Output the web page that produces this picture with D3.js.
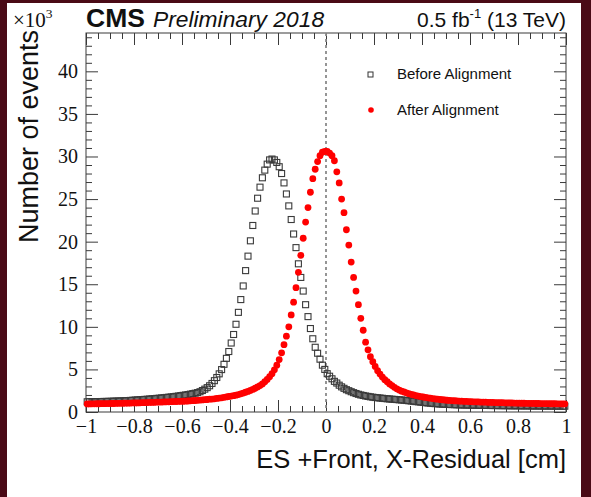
<!DOCTYPE html>
<html>
<head>
<meta charset="utf-8">
<script src="https://cdn.jsdelivr.net/npm/d3@7"></script>
<style>
  html, body { margin: 0; padding: 0; background: #4a0a16; }
  svg { display: block; }
</style>
</head>
<body>
<svg id="chart" width="591" height="497"></svg>
<script>
// Histogram binning of the residual axis (cm)
const xMin = -1, xMax = 1, nBins = 200;

// Entries per bin, in units of 10^3 events
const beforeAlignment = [
  1.20,1.20,1.21,1.21,1.22,1.22,1.23,1.24,1.24,1.25,1.26,1.27,1.28,1.29,1.30,1.31,1.33,1.34,1.36,1.38,
  1.40,1.42,1.44,1.46,1.48,1.50,1.52,1.55,1.57,1.60,1.62,1.65,1.68,1.71,1.74,1.77,1.80,1.84,1.88,1.92,
  1.96,2.00,2.05,2.10,2.16,2.21,2.28,2.38,2.52,2.68,2.86,3.08,3.35,3.68,4.05,4.48,4.98,5.60,6.30,7.10,
  8.1,9.1,10.3,11.7,13.2,14.8,16.6,18.3,20.1,21.9,23.6,25.1,26.4,27.5,28.4,29.1,29.6,29.7,29.6,29.3,
  28.8,28.0,26.9,25.6,24.2,22.6,20.9,19.3,17.4,15.8,14.2,12.6,11.2,9.8,8.6,7.6,6.9,6.2,5.5,5.0,
  4.5,4.2,3.9,3.6,3.4,3.15,2.95,2.78,2.62,2.50,2.38,2.27,2.17,2.08,2.00,1.94,1.88,1.83,1.78,1.74,
  1.70,1.67,1.64,1.61,1.58,1.55,1.53,1.50,1.48,1.46,1.43,1.41,1.38,1.35,1.32,1.29,1.26,1.22,1.19,1.16,
  1.12,1.09,1.06,1.03,1.00,0.98,0.96,0.94,0.92,0.91,0.89,0.88,0.87,0.86,0.85,0.84,0.83,0.82,0.82,0.81,
  0.80,0.80,0.79,0.79,0.78,0.78,0.77,0.77,0.76,0.76,0.76,0.75,0.75,0.75,0.74,0.74,0.74,0.73,0.73,0.73,
  0.73,0.72,0.72,0.72,0.72,0.71,0.71,0.71,0.71,0.70,0.70,0.70,0.70,0.70,0.69,0.69,0.69,0.69,0.68,0.68
];

const afterAlignment = [
  0.95,0.95,0.96,0.96,0.97,0.97,0.98,0.98,0.99,0.99,1.00,1.00,1.01,1.02,1.02,1.03,1.04,1.04,1.05,1.06,
  1.07,1.07,1.08,1.09,1.10,1.11,1.12,1.13,1.14,1.15,1.16,1.17,1.18,1.19,1.20,1.21,1.22,1.23,1.24,1.25,
  1.26,1.27,1.29,1.31,1.33,1.35,1.37,1.40,1.42,1.45,1.47,1.50,1.52,1.55,1.59,1.63,1.67,1.72,1.77,1.82,
  1.87,1.92,1.98,2.05,2.13,2.22,2.32,2.42,2.53,2.65,2.79,2.94,3.10,3.30,3.55,3.83,4.15,4.50,4.95,5.50,
  6.15,6.95,7.9,8.9,10.0,11.4,12.9,14.6,16.4,18.4,20.4,22.3,24.0,25.8,27.4,28.5,29.4,30.1,30.5,30.6,
  30.6,30.4,30.1,29.5,28.2,26.9,25.0,23.4,21.4,19.6,17.6,15.8,14.2,12.6,11.0,9.6,8.2,7.3,6.5,5.9,
  5.35,4.85,4.45,4.10,3.80,3.55,3.30,3.10,2.90,2.72,2.57,2.45,2.35,2.25,2.15,2.07,2.00,1.93,1.87,1.81,
  1.76,1.71,1.66,1.62,1.58,1.54,1.50,1.47,1.44,1.41,1.38,1.36,1.34,1.32,1.30,1.28,1.27,1.25,1.24,1.22,
  1.21,1.20,1.19,1.18,1.17,1.16,1.15,1.14,1.13,1.12,1.11,1.10,1.10,1.09,1.08,1.07,1.07,1.06,1.05,1.05,
  1.04,1.03,1.03,1.02,1.02,1.01,1.01,1.00,1.00,0.99,0.99,0.98,0.98,0.97,0.97,0.97,0.96,0.96,0.95,0.95
];

// Axis ticks
const xMajorTicks = [-1, -0.8, -0.6, -0.4, -0.2, 0, 0.2, 0.4, 0.6, 0.8, 1];
const yMajorTicks = [0, 5, 10, 15, 20, 25, 30, 35, 40];
const yMax = 44.5;

const legendLabels = ["Before Alignment", "After Alignment"];

const sans = "'Liberation Sans', Arial, Helvetica, sans-serif";
const serif = "'Liberation Serif', 'Times New Roman', Times, serif";

const svg = d3.select("#chart");
const W = 591, H = 497;
const frame = { left: 86, right: 566, top: 33, bottom: 412 };

// page: dark border around a white canvas
svg.append("rect").attr("width", W).attr("height", H).attr("fill", "#4a0a16");
svg.append("rect").attr("x", 7).attr("y", 3).attr("width", 574).attr("height", H - 3).attr("fill", "#ffffff");

const x = d3.scaleLinear().domain([xMin, xMax]).range([frame.left, frame.right]);
const y = d3.scaleLinear().domain([0, yMax]).range([frame.bottom, frame.top]);

const binWidth = (xMax - xMin) / nBins;
const centers = d3.range(nBins).map(i => xMin + (i + 0.5) * binWidth);

// minor tick positions
const xMinorTicks = d3.range(-20, 21).map(k => k * 0.05).filter(v => Math.abs(Math.round(v * 5) - v * 5) > 1e-6);
const yMinorTicks = d3.range(0, Math.floor(yMax) + 1).filter(v => v % 5 !== 0);

const fmtX = d => (d < 0 ? "\u2212" : "") + Math.abs(d);
const axisColor = "#3a3a3a";

function styleAxis(g) {
  g.select(".domain").remove();
  g.selectAll(".tick line").attr("stroke", axisColor).attr("stroke-width", 1);
}

// bottom axis: major with labels, minor without
svg.append("g").attr("transform", `translate(0,${frame.bottom})`)
  .call(d3.axisBottom(x).tickValues(xMajorTicks).tickSize(-12).tickPadding(7).tickFormat(fmtX))
  .call(styleAxis)
  .call(g => g.selectAll("text").attr("font-family", serif).attr("font-size", 20).attr("fill", "#111"));
svg.append("g").attr("transform", `translate(0,${frame.bottom})`)
  .call(d3.axisBottom(x).tickValues(xMinorTicks).tickSize(-6).tickFormat(""))
  .call(styleAxis);
// top axis mirror
svg.append("g").attr("transform", `translate(0,${frame.top})`)
  .call(d3.axisTop(x).tickValues(xMajorTicks).tickSize(-12).tickFormat(""))
  .call(styleAxis);
svg.append("g").attr("transform", `translate(0,${frame.top})`)
  .call(d3.axisTop(x).tickValues(xMinorTicks).tickSize(-6).tickFormat(""))
  .call(styleAxis);

// left axis
svg.append("g").attr("transform", `translate(${frame.left},0)`)
  .call(d3.axisLeft(y).tickValues(yMajorTicks).tickSize(-12).tickPadding(8).tickFormat(d3.format("d")))
  .call(styleAxis)
  .call(g => g.selectAll("text").attr("font-family", serif).attr("font-size", 20).attr("fill", "#111"));
svg.append("g").attr("transform", `translate(${frame.left},0)`)
  .call(d3.axisLeft(y).tickValues(yMinorTicks).tickSize(-6).tickFormat(""))
  .call(styleAxis);
// right axis mirror
svg.append("g").attr("transform", `translate(${frame.right},0)`)
  .call(d3.axisRight(y).tickValues(yMajorTicks).tickSize(-12).tickFormat(""))
  .call(styleAxis);
svg.append("g").attr("transform", `translate(${frame.right},0)`)
  .call(d3.axisRight(y).tickValues(yMinorTicks).tickSize(-6).tickFormat(""))
  .call(styleAxis);

// frame
svg.append("rect")
  .attr("x", frame.left).attr("y", frame.top)
  .attr("width", frame.right - frame.left).attr("height", frame.bottom - frame.top)
  .attr("fill", "none").attr("stroke", axisColor).attr("stroke-width", 1);

// zero-residual reference line
svg.append("line")
  .attr("x1", x(0)).attr("x2", x(0))
  .attr("y1", frame.top).attr("y2", frame.bottom)
  .attr("stroke", "#8a8a8a").attr("stroke-width", 1.8)
  .attr("stroke-dasharray", "3,3");

// before alignment: open squares
const sq = 6;
svg.append("g").selectAll("rect")
  .data(beforeAlignment)
  .join("rect")
  .attr("x", (d, i) => x(centers[i]) - sq / 2)
  .attr("y", d => y(d) - sq / 2)
  .attr("width", sq).attr("height", sq)
  .attr("fill", "none").attr("stroke", "#3a3a3a").attr("stroke-width", 1.1);

// after alignment: filled red circles
svg.append("g").selectAll("circle")
  .data(afterAlignment)
  .join("circle")
  .attr("cx", (d, i) => x(centers[i]))
  .attr("cy", d => y(d))
  .attr("r", 3.4)
  .attr("fill", "#ff0000");

// legend
const leg = svg.append("g");
leg.append("rect").attr("x", 368).attr("y", 72).attr("width", 5).attr("height", 5)
  .attr("fill", "none").attr("stroke", "#333").attr("stroke-width", 1);
leg.append("text").attr("x", 397).attr("y", 79).text(legendLabels[0])
  .attr("font-family", sans).attr("font-size", 15).attr("fill", "#111");
leg.append("circle").attr("cx", 371).attr("cy", 110).attr("r", 2.8).attr("fill", "#ff0000");
leg.append("text").attr("x", 397).attr("y", 115).text(legendLabels[1])
  .attr("font-family", sans).attr("font-size", 15).attr("fill", "#111");

// header
svg.append("text").attr("x", 86).attr("y", 27)
  .attr("font-family", sans).attr("font-weight", "bold").attr("font-size", 26.5).attr("fill", "#111")
  .text("CMS");
svg.append("text").attr("x", 153).attr("y", 27)
  .attr("font-family", sans).attr("font-style", "italic").attr("font-size", 22.8).attr("fill", "#111")
  .text("Preliminary 2018");
const lumi = svg.append("text").attr("x", 566).attr("y", 27).attr("text-anchor", "end")
  .attr("font-family", sans).attr("font-size", 21).attr("fill", "#111");
lumi.append("tspan").text("0.5 fb");
lumi.append("tspan").attr("dy", -9).attr("font-size", 13).text("-1");
lumi.append("tspan").attr("dy", 9).text(" (13 TeV)");

// exponent of the y axis
const expo = svg.append("text").attr("x", 13).attr("y", 27)
  .attr("font-family", serif).attr("font-size", 21).attr("fill", "#111");
expo.append("tspan").text("\u00d710");
expo.append("tspan").attr("dy", -9).attr("font-size", 13.5).text("3");

// axis titles
svg.append("text")
  .attr("x", 566).attr("y", 468).attr("text-anchor", "end")
  .attr("font-family", sans).attr("font-size", 25.5).attr("fill", "#111")
  .text("ES +Front, X-Residual [cm]");
svg.append("text")
  .attr("transform", `translate(38,30) rotate(-90)`)
  .attr("text-anchor", "end")
  .attr("font-family", sans).attr("font-size", 27).attr("fill", "#111")
  .text("Number of events");
</script>
</body>
</html>
